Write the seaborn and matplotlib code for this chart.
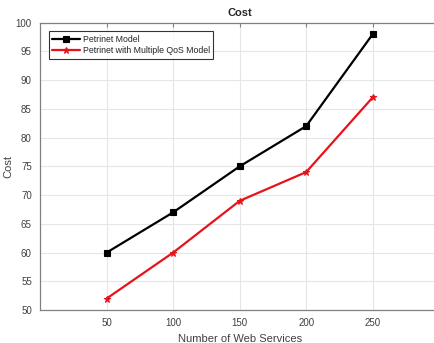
import matplotlib
matplotlib.use("Agg")
import matplotlib.pyplot as plt
import seaborn as sns
import pandas as pd

web_services = [50, 100, 150, 200, 250]
petrinet_cost = [60, 67, 75, 82, 98]
petrinet_qos_cost = [52, 60, 69, 74, 87]
series_names = ["Petrinet Model", "Petrinet with Multiple QoS Model"]

df = pd.concat([
    pd.DataFrame({"x": web_services, "cost": petrinet_cost, "model": series_names[0]}),
    pd.DataFrame({"x": web_services, "cost": petrinet_qos_cost, "model": series_names[1]}),
])

sns.set_theme(style="whitegrid")
plt.rcParams["font.family"] = ["Liberation Sans", "DejaVu Sans"]

fig = plt.figure(figsize=(4.35, 3.43), dpi=100)
ax = fig.add_axes([0.0924, 0.0962, 0.9172, 0.8376])

sns.lineplot(data=df, x="x", y="cost", hue="model", style="model",
             palette={series_names[0]: "black", series_names[1]: "#e8121a"},
             markers={series_names[0]: "s", series_names[1]: "*"},
             dashes=False, markersize=5, linewidth=1.6,
             markeredgewidth=0.8, ax=ax)
for line in ax.lines:
    line.set_markeredgecolor(line.get_color())

ax.set_xlim(0, 300)
ax.set_ylim(50, 100)
ax.set_xticks(web_services)
ax.set_yticks(range(50, 101, 5))
ax.grid(True, color="#e6e6e6", linewidth=0.8)
for side in ["left", "bottom", "top"]:
    ax.spines[side].set_color("#808080")
    ax.spines[side].set_linewidth(0.9)
ax.spines["right"].set_visible(False)
ax.tick_params(direction="in", length=3, width=0.8, color="#808080",
               labelsize=7, labelcolor="#404040", pad=6, top=True)
ax.set_xlabel("Number of Web Services", fontsize=8, color="#404040")
ax.set_ylabel("Cost", fontsize=8, color="#404040", labelpad=2)
ax.set_title("Cost", fontsize=8, fontweight="bold", pad=5)

leg = ax.legend(loc="upper left", title=None, fontsize=6.3, frameon=True,
                fancybox=False, borderpad=0.4, handlelength=3.2,
                handletextpad=0.3, labelspacing=0.25,
                bbox_to_anchor=(0.01, 0.985))
leg.get_frame().set_edgecolor("black")
leg.get_frame().set_linewidth(0.8)
for h in leg.legend_handles:
    h.set_markeredgecolor(h.get_color())

fig.savefig("out.png", dpi=100)
